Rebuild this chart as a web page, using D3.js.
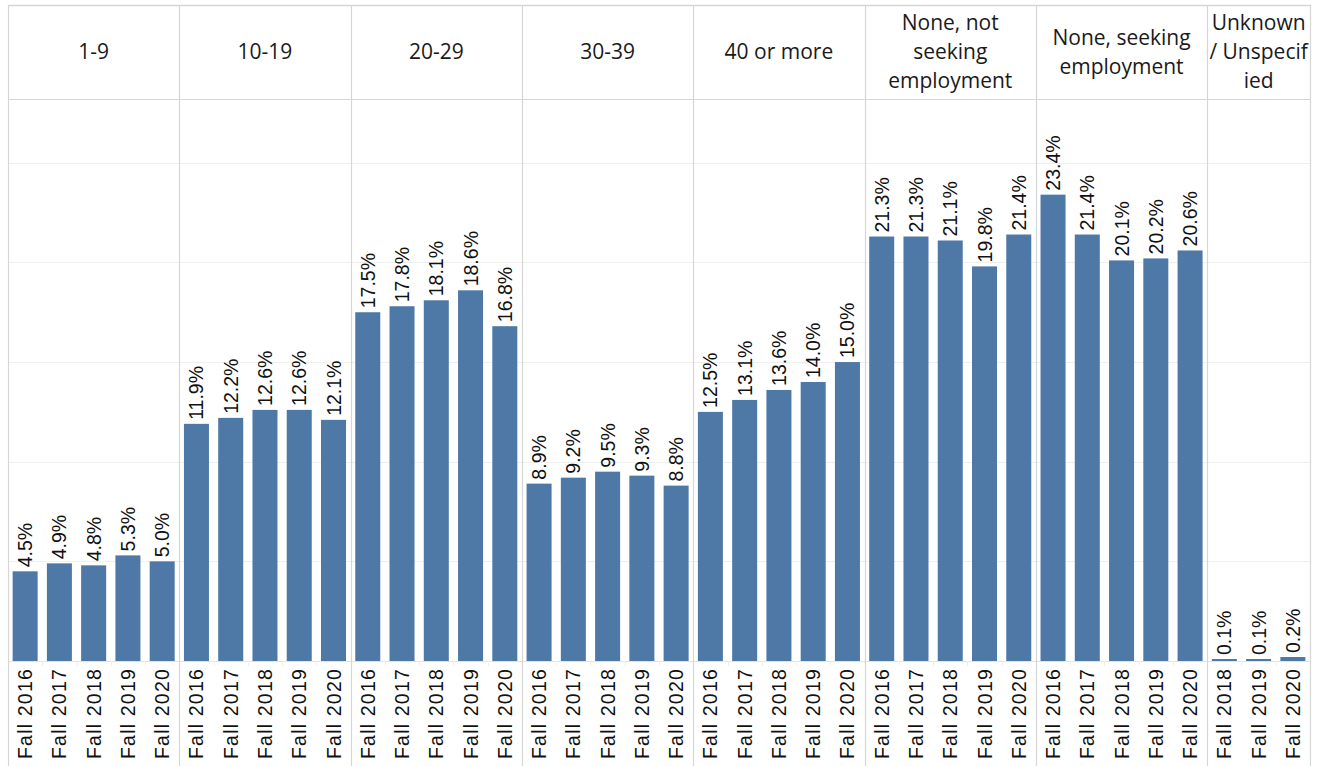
<!DOCTYPE html>
<html>
<head>
<meta charset="utf-8">
<script src="https://cdn.jsdelivr.net/npm/d3@7"></script>
<style>
  html, body { margin: 0; padding: 0; background: #fff; }
  svg { display: block; }
  .lbl { font-family: "Liberation Sans", Arimo, Arial, Helvetica, sans-serif; }
</style>
</head>
<body>
<svg id="chart" width="1323" height="766"></svg>
<script>
// ---- data ----
const groups = ["1-9", "10-19", "20-29", "30-39", "40 or more",
  "None, not seeking employment", "None, seeking employment", "Unknown / Unspecified"];
const headerLines = [["1-9"], ["10-19"], ["20-29"], ["30-39"], ["40 or more"],
  ["None, not", "seeking", "employment"], ["None, seeking", "employment"], ["Unknown", "/ Unspecif", "ied"]];
const years = ["Fall 2016", "Fall 2017", "Fall 2018", "Fall 2019", "Fall 2020"];
const yearsUnknown = ["Fall 2018", "Fall 2019", "Fall 2020"];
const v1to9 = [4.5, 4.9, 4.8, 5.3, 5.0];
const v10to19 = [11.9, 12.2, 12.6, 12.6, 12.1];
const v20to29 = [17.5, 17.8, 18.1, 18.6, 16.8];
const v30to39 = [8.9, 9.2, 9.5, 9.3, 8.8];
const v40plus = [12.5, 13.1, 13.6, 14.0, 15.0];
const vNoneNot = [21.3, 21.3, 21.1, 19.8, 21.4];
const vNoneSeek = [23.4, 21.4, 20.1, 20.2, 20.6];
const vUnknown = [0.1, 0.1, 0.2];
const gridTicks = [0, 5, 10, 15, 20, 25];

const seriesByGroup = [v1to9, v10to19, v20to29, v30to39, v40plus, vNoneNot, vNoneSeek, vUnknown];
const yearsByGroup = groups.map((g, i) => i === groups.length - 1 ? yearsUnknown : years);

const rows = [];
groups.forEach((g, gi) => {
  yearsByGroup[gi].forEach((yr, i) => {
    rows.push({ group: g, gi, year: yr, value: seriesByGroup[gi][i], key: g + "|" + yr });
  });
});

// ---- layout ----
const L = 8, R = 1310, T = 5, headerBottom = 99, baseline = 661, B = 766;
const svg = d3.select("#chart");

const pad = 0.27;
const x = d3.scaleBand().domain(rows.map(d => d.key)).range([L, R])
  .paddingInner(pad).paddingOuter(pad / 2);
const y = d3.scaleLinear().domain([0, 28.2]).range([baseline, headerBottom]);
const step = x.step();

// group boundaries
const groupStart = groups.map(g => {
  const first = rows.find(r => r.group === g);
  return x(first.key) - step * pad / 2;
});
const groupEnd = groups.map((g, i) => i < groups.length - 1 ? groupStart[i + 1] : R);

// gridlines
svg.append("g").selectAll("line").data(gridTicks.filter(t => t > 0)).join("line")
  .attr("x1", L).attr("x2", R)
  .attr("y1", d => Math.round(y(d)) + 0.5).attr("y2", d => Math.round(y(d)) + 0.5)
  .attr("stroke", "#efefef").attr("stroke-width", 1);

// baseline
svg.append("line").attr("x1", L).attr("x2", R)
  .attr("y1", baseline + 0.5).attr("y2", baseline + 0.5)
  .attr("stroke", "#e3e3e3");

// small ticks between bars
svg.append("g").selectAll("line").data(rows).join("line")
  .attr("x1", d => Math.round(x(d.key) - step * pad / 2) + 0.5)
  .attr("x2", d => Math.round(x(d.key) - step * pad / 2) + 0.5)
  .attr("y1", baseline).attr("y2", baseline + 5)
  .attr("stroke", "#eeeeee");

// bars
svg.append("g").selectAll("rect").data(rows).join("rect")
  .attr("x", d => x(d.key))
  .attr("width", x.bandwidth())
  .attr("y", d => y(d.value))
  .attr("height", d => baseline - y(d.value))
  .attr("fill", "#4e79a7");

// bar labels
svg.append("g").selectAll("text").data(rows).join("text")
  .attr("class", "lbl")
  .attr("transform", d => `translate(${x(d.key) + x.bandwidth() / 2},${y(d.value) - 4}) rotate(-90)`)
  .attr("dy", "0.36em")
  .attr("text-anchor", "start")
  .style("font-size", "19.5px")
  .attr("fill", "#111")
  .text(d => d.value.toFixed(1) + "%");

// x tick labels
svg.append("g").selectAll("text").data(rows).join("text")
  .attr("class", "lbl")
  .attr("transform", d => `translate(${x(d.key) + x.bandwidth() / 2},${baseline + 7}) rotate(-90)`)
  .attr("dy", "0.36em")
  .attr("text-anchor", "end")
  .style("font-size", "19.5px")
  .style("letter-spacing", "1.2px")
  .attr("fill", "#111")
  .text(d => d.year);

// frame lines
const lineColor = "#d6d6d6";
svg.append("line").attr("x1", L).attr("x2", R).attr("y1", T + 0.5).attr("y2", T + 0.5)
  .attr("stroke", lineColor).attr("stroke-width", 1.5);
svg.append("line").attr("x1", L).attr("x2", R).attr("y1", headerBottom + 0.5).attr("y2", headerBottom + 0.5)
  .attr("stroke", lineColor).attr("stroke-width", 1.2);
const vlines = [L].concat(groupStart.slice(1)).concat([R]);
svg.append("g").selectAll("line").data(vlines).join("line")
  .attr("x1", d => Math.round(d) + 0.5).attr("x2", d => Math.round(d) + 0.5)
  .attr("y1", T).attr("y2", B)
  .attr("stroke", lineColor).attr("stroke-width", 1.2);

// headers
const lh = 29;
const hdr = svg.append("g").selectAll("text").data(groups).join("text")
  .attr("x", (d, i) => (groupStart[i] + groupEnd[i]) / 2)
  .attr("y", (T + headerBottom) / 2)
  .attr("text-anchor", "middle")
  .style("font-family", "'Open Sans', 'Noto Sans', sans-serif")
  .style("font-size", "21px")
  .attr("fill", "#1a1a1a");
hdr.each(function (d, i) {
  const lines = headerLines[i];
  const n = lines.length;
  d3.select(this).selectAll("tspan").data(lines).join("tspan")
    .attr("x", (groupStart[i] + groupEnd[i]) / 2)
    .attr("y", (l, k) => (T + headerBottom) / 2 + (k - (n - 1) / 2) * lh)
    .attr("dy", "0.35em")
    .text(l => l);
});
</script>
</body>
</html>
